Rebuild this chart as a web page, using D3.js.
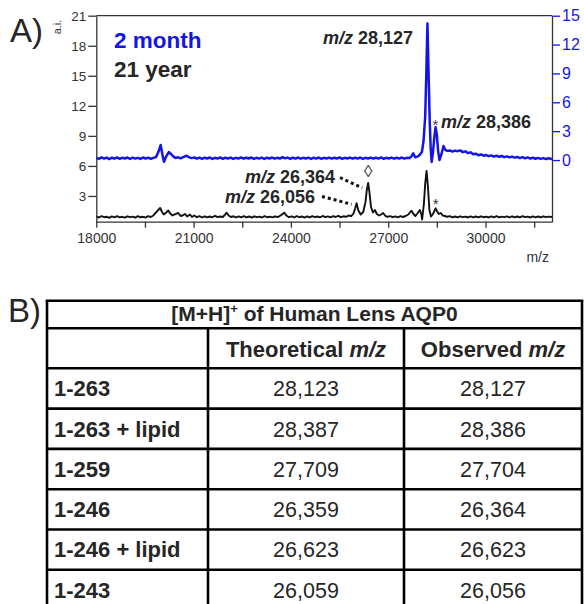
<!DOCTYPE html>
<html>
<head>
<meta charset="utf-8">
<script src="https://cdn.jsdelivr.net/npm/d3@7"></script>
<style>
  body { margin: 0; background: #fff; }
  svg { display: block; font-family: "Liberation Sans", Arial, Helvetica, sans-serif; }
</style>
</head>
<body>
<svg id="chart" width="584" height="604"></svg>
<script>
// ---- data ----
const mzTicks = [18000, 21000, 24000, 27000, 30000];
const mzMinorTicks = [19500, 22500, 25500, 28500, 31500];
const leftTicks = [3, 6, 9, 12, 15, 18, 21];
const rightTicks = [0, 3, 6, 9, 12, 15];

// 21 year lens (black, left axis a.i.)
const adultSpectrum = [
  [18000,.95],[18080,.85],[18160,.98],[18240,.88],[18320,.93],[18400,.82],[18480,.96],[18560,.87],[18640,.99],[18720,.86],
  [18800,.92],[18880,.84],[18960,.97],[19040,.88],[19120,.94],[19200,.83],[19280,.98],[19360,.87],[19440,.92],[19520,.85],
  [19600,.99],[19680,.9],[19760,1.05],[19840,1.35],[19910,1.6],[19969,1.8],[20020,1.45],[20080,1.15],[20140,1.3],[20219,1.55],
  [20280,1.25],[20350,1.05],[20420,1.15],[20527,1.3],[20600,1.0],[20660,1.05],[20733,1.2],[20800,.95],[20887,1.15],[20950,.9],
  [21020,1.05],[21100,.88],[21180,.98],[21260,.85],[21340,.97],[21420,.86],[21500,.95],[21580,.87],[21660,1.02],[21740,.88],
  [21820,.95],[21900,.9],[21960,1.1],[22018,1.33],[22080,1.05],[22150,.9],[22230,.97],[22310,.85],[22390,.96],[22470,.86],
  [22550,.98],[22630,.87],[22710,.95],[22790,.84],[22870,.97],[22950,.88],[23030,.94],[23110,.85],[23190,.98],[23270,.88],
  [23350,.93],[23430,.86],[23510,.97],[23590,.89],[23680,1.05],[23794,1.33],[23870,1.02],[23940,.88],[24020,.96],[24100,.85],
  [24180,.98],[24260,.88],[24340,.95],[24420,.84],[24500,.97],[24580,.87],[24660,.99],[24740,.88],[24820,.95],[24900,.86],
  [24980,1.0],[25060,.89],[25140,.96],[25220,.87],[25300,.99],[25380,.9],[25460,1.02],[25540,.88],[25620,.97],[25700,.92],
  [25780,1.05],[25860,.98],[25930,1.25],[25975,1.7],[26025,2.27],[26080,1.55],[26150,1.15],[26230,1.4],[26300,2.4],[26340,3.6],
  [26382,4.3],[26420,3.4],[26470,1.9],[26530,1.35],[26589,1.6],[26650,1.2],[26720,1.05],[26780,1.15],[26845,1.3],[26910,1.02],
  [26980,.92],[27060,.98],[27140,.88],[27220,.96],[27300,.87],[27380,.98],[27460,.9],[27540,1.0],[27620,1.15],[27670,1.35],
  [27720,1.53],[27780,1.2],[27840,1.0],[27900,1.25],[27975,1.6],[28020,1.2],[28046,.65],[28100,2.2],[28140,4.2],[28183,5.5],
  [28225,3.9],[28270,1.6],[28320,.95],[28380,1.2],[28460,1.77],[28510,1.45],[28560,1.2],[28620,1.3],[28680,1.05],[28750,1.0],
  [28820,.92],[28900,.98],[28980,.87],[29060,.95],[29140,.86],[29220,.97],[29300,.88],[29380,.94],[29460,.85],[29540,.96],
  [29620,.87],[29700,.95],[29780,.86],[29860,.97],[29940,.88],[30020,.93],[30100,.85],[30180,.96],[30260,.87],[30340,.98],
  [30420,.86],[30500,.94],[30580,.88],[30660,.96],[30740,.85],[30820,.97],[30900,.87],[30980,.95],[31060,.86],[31140,.98],
  [31220,.88],[31300,.94],[31380,.85],[31460,.96],[31540,.87],[31620,.95],[31700,.86],[31780,.97],[31860,.88],[31940,.94],[32050,.9]
];

// 2 month lens (blue, right axis)
const youngSpectrum = [
  [18000,.22],[18080,.12],[18160,.28],[18240,.15],[18320,.25],[18400,.1],[18480,.24],[18560,.14],[18640,.27],[18720,.13],
  [18800,.23],[18880,.16],[18960,.26],[19040,.12],[19120,.25],[19200,.15],[19280,.22],[19360,.11],[19440,.26],[19520,.16],
  [19600,.24],[19680,.13],[19760,.22],[19840,.3],[19910,.8],[19984,1.56],[20040,.55],[20086,-.18],[20160,.4],[20240,.83],
  [20310,.6],[20380,.35],[20440,.22],[20520,.28],[20600,.18],[20680,.3],[20786,.45],[20860,.28],[20940,.2],[21020,.27],
  [21100,.14],[21180,.25],[21260,.13],[21340,.24],[21420,.16],[21500,.26],[21580,.12],[21660,.23],[21740,.15],[21820,.27],
  [21900,.13],[21980,.24],[22060,.16],[22140,.25],[22220,.12],[22300,.23],[22380,.15],[22460,.27],[22540,.14],[22620,.24],
  [22700,.16],[22780,.26],[22860,.13],[22940,.23],[23020,.15],[23100,.25],[23180,.12],[23260,.24],[23340,.16],[23420,.26],
  [23500,.14],[23580,.23],[23660,.15],[23740,.3],[23820,.18],[23900,.25],[23980,.13],[24060,.24],[24140,.15],[24220,.26],
  [24300,.14],[24380,.23],[24460,.16],[24540,.25],[24620,.12],[24700,.24],[24780,.15],[24860,.26],[24940,.13],[25020,.23],
  [25100,.16],[25180,.25],[25260,.14],[25340,.24],[25420,.15],[25500,.27],[25580,.13],[25660,.23],[25740,.16],[25820,.25],
  [25900,.14],[25980,.24],[26060,.15],[26140,.26],[26220,.13],[26300,.23],[26380,.16],[26460,.25],[26540,.14],[26620,.24],
  [26700,.15],[26780,.27],[26860,.13],[26940,.23],[27020,.16],[27100,.25],[27180,.14],[27260,.24],[27340,.15],[27420,.26],
  [27500,.14],[27580,.23],[27660,.2],[27720,.4],[27770,.7],[27830,.28],[27900,.35],[27975,.55],[28040,.85],[28090,2.0],
  [28140,4.5],[28175,9.0],[28210,14.2],[28245,9.0],[28280,4.0],[28310,1.2],[28340,-.2],[28380,.8],[28420,2.3],[28460,3.4],
  [28500,2.6],[28540,.9],[28580,0],[28640,.6],[28705,1.45],[28760,1.05],[28820,.95],[28900,1.0],[28980,.88],[29060,.98],
  [29140,.92],[29220,1.0],[29300,.82],[29380,.9],[29460,.72],[29540,.8],[29620,.6],[29700,.66],[29780,.5],[29860,.58],
  [29940,.45],[30020,.52],[30100,.4],[30180,.48],[30260,.36],[30340,.45],[30420,.33],[30500,.42],[30580,.3],[30660,.38],
  [30740,.27],[30820,.36],[30900,.25],[30980,.32],[31060,.2],[31140,.3],[31220,.18],[31300,.27],[31380,.15],[31460,.24],
  [31540,.13],[31620,.22],[31700,.12],[31780,.2],[31860,.1],[31940,.18],[32050,.1]
];

// table B
const tableTitle = "[M+H]";
const tableRows = ["1-263", "1-263 + lipid", "1-259", "1-246", "1-246 + lipid", "1-243"];
const theoretical = ["28,123", "28,387", "27,709", "26,359", "26,623", "26,059"];
const observed = ["28,127", "28,386", "27,704", "26,364", "26,623", "26,056"];

// ---- layout ----
const BLUE = '#1414e6';
const INK = '#262626';
const svg = d3.select('#chart');

const x = d3.scaleLinear().domain([18000, 32050]).range([96.3, 552]);
const yL = d3.scaleLinear().domain([0.43, 21]).range([221.7, 15.7]);
const yR = d3.scaleLinear().domain([-6.41, 15]).range([221.7, 15.7]);

const plot = svg.append('g');

// spectra
const lineL = d3.line().x(d => x(d[0])).y(d => yL(d[1]));
const lineR = d3.line().x(d => x(d[0])).y(d => yR(d[1]));

plot.append('path').datum(youngSpectrum)
  .attr('d', lineR).attr('fill', 'none')
  .attr('stroke', BLUE).attr('stroke-width', 2.5).attr('stroke-linejoin', 'round');

plot.append('path').datum(adultSpectrum)
  .attr('d', lineL).attr('fill', 'none')
  .attr('stroke', '#111').attr('stroke-width', 1.9).attr('stroke-linejoin', 'round');

// frame
plot.append('line').attr('x1', x.range()[0]).attr('x2', x.range()[1])
  .attr('y1', 15.7).attr('y2', 15.7).attr('stroke', '#333').attr('stroke-width', 1.3);

const styleAxis = (g, color, size) => {
  g.attr('font-family', null).attr('font-size', size);
  g.select('.domain').attr('stroke', '#333').attr('stroke-width', 1.3);
  g.selectAll('.tick line').attr('stroke', color).attr('stroke-width', 1.3);
  g.selectAll('.tick text').attr('fill', color);
};

plot.append('g').attr('transform', 'translate(0,221.7)')
  .call(d3.axisBottom(x).tickValues(mzTicks).tickFormat(d3.format('d'))
    .tickSize(6).tickSizeOuter(0).tickPadding(5.7))
  .call(g => styleAxis(g, '#333', 14));

plot.append('g').attr('transform', 'translate(0,221.7)')
  .call(d3.axisBottom(x).tickValues(mzMinorTicks).tickFormat('').tickSize(6).tickSizeOuter(0))
  .call(g => g.select('.domain').remove())
  .call(g => g.selectAll('.tick line').attr('stroke', '#333').attr('stroke-width', 1.3));

plot.append('g').attr('transform', 'translate(96.3,0)')
  .call(d3.axisLeft(yL).tickValues(leftTicks).tickSize(8).tickSizeOuter(0).tickPadding(2))
  .call(g => styleAxis(g, '#333', 13.5));

plot.append('g').attr('transform', 'translate(552,0)')
  .call(d3.axisRight(yR).tickValues(rightTicks).tickSize(8).tickSizeOuter(0).tickPadding(2))
  .call(g => styleAxis(g, BLUE, 16));

plot.append('text').attr('x', 549).attr('y', 261.7).attr('text-anchor', 'end')
  .attr('font-size', 14).attr('fill', '#333').text('m/z');

plot.append('text').attr('transform', 'translate(60.5,27) rotate(-90)')
  .attr('text-anchor', 'middle').attr('font-size', 11).attr('fill', '#333').text('a.i.');

// panel letters
svg.append('text').attr('x', 10).attr('y', 42).attr('font-size', 33).attr('fill', INK).text('A)');
svg.append('text').attr('x', 8).attr('y', 322).attr('font-size', 33).attr('fill', INK).text('B)');

// legend
plot.append('text').attr('x', 114).attr('y', 48.3).attr('font-size', 22.5).attr('font-weight', 'bold')
  .attr('fill', BLUE).text('2 month');
plot.append('text').attr('x', 114).attr('y', 77).attr('font-size', 22.5).attr('font-weight', 'bold')
  .attr('fill', INK).text('21 year');

// peak annotations
const mzLabel = (g, value) => {
  g.append('tspan').attr('font-style', 'italic').text('m/z');
  g.append('tspan').text(' ' + value);
};

plot.append('text').attr('x', 413).attr('y', 44.3).attr('text-anchor', 'end')
  .attr('font-size', 18).attr('font-weight', 'bold').attr('fill', INK)
  .call(g => mzLabel(g, '28,127'));

plot.append('text').attr('x', 441).attr('y', 128.3)
  .attr('font-size', 18).attr('font-weight', 'bold').attr('fill', INK)
  .call(g => mzLabel(g, '28,386'));
plot.append('text').attr('x', 435.5).attr('y', 130).attr('text-anchor', 'middle')
  .attr('font-size', 15).attr('fill', '#444').text('*');

plot.append('text').attr('x', 335).attr('y', 183.3).attr('text-anchor', 'end')
  .attr('font-size', 18).attr('font-weight', 'bold').attr('fill', INK)
  .call(g => mzLabel(g, '26,364'));
plot.append('text').attr('x', 315).attr('y', 203.3).attr('text-anchor', 'end')
  .attr('font-size', 18).attr('font-weight', 'bold').attr('fill', INK)
  .call(g => mzLabel(g, '26,056'));

// dotted leaders to the peaks
const leaders = [
  { x1: 340, y1: 177.5, mz: 26382, v: 4.3, dx: -6, dy: 5 },
  { x1: 322, y1: 196.5, mz: 26025, v: 2.27, dx: -5, dy: 1 }
];
plot.selectAll('line.leader').data(leaders).join('line').attr('class', 'leader')
  .attr('x1', d => d.x1).attr('y1', d => d.y1)
  .attr('x2', d => x(d.mz) + d.dx).attr('y2', d => yL(d.v) + d.dy)
  .attr('stroke', '#111').attr('stroke-width', 3).attr('stroke-dasharray', '3,3');

plot.append('text').attr('x', x(26382)).attr('y', 176.5).attr('text-anchor', 'middle')
  .attr('font-size', 17).attr('fill', '#333').text('◊');
plot.append('text').attr('x', x(28460)).attr('y', 209).attr('text-anchor', 'middle')
  .attr('font-size', 15).attr('fill', '#333').text('*');

// ---- table ----
const T = { left: 47, right: 582, c1: 208, c2: 404, top: 300.7, h1: 328.3, h2: 368.3, rowH: 40.3 };
const rowY = i => T.h2 + i * T.rowH;
const bottom = rowY(tableRows.length);
const tb = svg.append('g');
const hline = (y1, xa, xb) => tb.append('line').attr('x1', xa).attr('x2', xb).attr('y1', y1).attr('y2', y1)
  .attr('stroke', '#000').attr('stroke-width', 2.6);
const vline = (x1, ya, yb) => tb.append('line').attr('x1', x1).attr('x2', x1).attr('y1', ya).attr('y2', yb)
  .attr('stroke', '#000').attr('stroke-width', 2.6);

hline(T.top, T.left - 1.3, T.right + 1.3);
hline(T.h1, T.left, T.right);
d3.range(tableRows.length + 1).forEach(i => hline(rowY(i), T.left, T.right));
vline(T.left, T.top, bottom);
vline(T.right, T.top, bottom);
vline(T.c1, T.h1, bottom);
vline(T.c2, T.h1, bottom);

const title = tb.append('text').attr('x', (T.left + T.right) / 2).attr('y', 321)
  .attr('text-anchor', 'middle').attr('font-size', 21).attr('font-weight', 'bold').attr('fill', INK);
title.append('tspan').text(tableTitle);
title.append('tspan').attr('font-size', 13).attr('dy', -8).text('+');
title.append('tspan').attr('dy', 8).text(' of Human Lens AQP0');

[['Theoretical ', (T.c1 + T.c2) / 2], ['Observed ', (T.c2 + T.right) / 2]].forEach(([lbl, cx]) => {
  const t = tb.append('text').attr('x', cx).attr('y', 356.5).attr('text-anchor', 'middle')
    .attr('font-size', 22).attr('font-weight', 'bold').attr('fill', INK);
  t.append('tspan').text(lbl);
  t.append('tspan').attr('font-style', 'italic').text('m/z');
});

tableRows.forEach((r, i) => {
  const cy = rowY(i) + T.rowH / 2 + 7.8;
  tb.append('text').attr('x', 54).attr('y', cy).attr('font-size', 22).attr('font-weight', 'bold')
    .attr('fill', INK).text(r);
  tb.append('text').attr('x', (T.c1 + T.c2) / 2).attr('y', cy).attr('text-anchor', 'middle')
    .attr('font-size', 21.5).attr('fill', INK).text(theoretical[i]);
  tb.append('text').attr('x', (T.c2 + T.right) / 2).attr('y', cy).attr('text-anchor', 'middle')
    .attr('font-size', 21.5).attr('fill', INK).text(observed[i]);
});
</script>
</body>
</html>
